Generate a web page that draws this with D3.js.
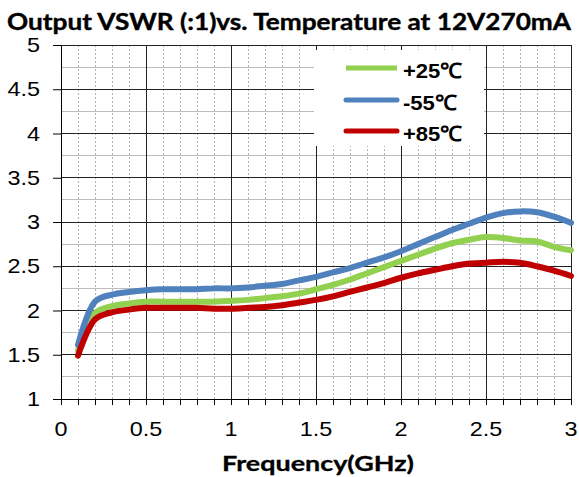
<!DOCTYPE html>
<html>
<head>
<meta charset="utf-8">
<script src="https://cdn.jsdelivr.net/npm/d3@7"></script>
<style>
  html, body { margin: 0; padding: 0; background: #fff; }
  svg { display: block; }
</style>
</head>
<body>
<svg id="chart" width="579" height="477"></svg>
<script>
// ---- data ----
const title = "Output VSWR (:1)vs. Temperature at 12V270mA";
const xAxisTitle = "Frequency(GHz)";
const freqs = [0.1,0.2,0.3,0.4,0.5,0.6,0.7,0.8,0.9,1.0,1.1,1.2,1.3,1.4,1.5,1.6,1.7,1.8,1.9,2.0,2.1,2.2,2.3,2.4,2.5,2.6,2.7,2.8,2.9,3.0];
const seriesNames = ["+25\u2103", "-55\u2103", "+85\u2103"];
const vswr25 = [1.55,1.97,2.05,2.08,2.10,2.10,2.10,2.10,2.10,2.11,2.12,2.14,2.16,2.19,2.24,2.29,2.35,2.42,2.49,2.56,2.63,2.70,2.76,2.80,2.83,2.82,2.79,2.78,2.72,2.68];
const vswrM55 = [1.61,2.10,2.18,2.21,2.23,2.24,2.24,2.24,2.25,2.25,2.26,2.28,2.30,2.34,2.38,2.43,2.48,2.54,2.60,2.67,2.75,2.83,2.91,2.98,3.05,3.10,3.12,3.11,3.06,2.99];
const vswr85 = [1.49,1.90,1.98,2.01,2.03,2.03,2.03,2.03,2.02,2.02,2.03,2.04,2.06,2.09,2.12,2.16,2.21,2.26,2.31,2.37,2.42,2.46,2.50,2.53,2.54,2.55,2.54,2.50,2.45,2.39];
const xTicks = [0, 0.5, 1, 1.5, 2, 2.5, 3];
const yTicks = [1, 1.5, 2, 2.5, 3, 3.5, 4, 4.5, 5];
const xTickLabels = ["0", "0.5", "1", "1.5", "2", "2.5", "3"];
const yTickLabels = ["1", "1.5", "2", "2.5", "3", "3.5", "4", "4.5", "5"];
const colors = ["#92D050", "#4F81BD", "#C00000"];

// ---- layout ----
const svg = d3.select("#chart");
const L = 61, R = 571, T = 45, B = 399;
const x = d3.scaleLinear().domain([0, 3]).range([L, R]);
const y = d3.scaleLinear().domain([1, 5]).range([B, T]);

// minor vertical dotted gridlines (every 0.1)
const minorX = d3.range(1, 30).filter(i => i % 5 !== 0).map(i => i / 10);
svg.append("g").selectAll("line").data(minorX).join("line")
  .attr("x1", d => x(d)).attr("x2", d => x(d))
  .attr("y1", T).attr("y2", B)
  .attr("stroke", "#b4b4b4").attr("stroke-width", 1)
  .attr("stroke-dasharray", "2,2")
  .attr("shape-rendering", "crispEdges");

// minor horizontal solid gridlines (every 0.25 between majors)
const minorY = d3.range(0, 8).map(i => 1.25 + i * 0.5);
svg.append("g").selectAll("line").data(minorY).join("line")
  .attr("x1", L).attr("x2", R)
  .attr("y1", d => y(d)).attr("y2", d => y(d))
  .attr("stroke", "#bdbdbd").attr("stroke-width", 1)
  .attr("shape-rendering", "crispEdges");

// major gridlines
svg.append("g").selectAll("line").data(xTicks.slice(1)).join("line")
  .attr("x1", d => x(d)).attr("x2", d => x(d))
  .attr("y1", T).attr("y2", B)
  .attr("stroke", "#222").attr("stroke-width", 1)
  .attr("shape-rendering", "crispEdges");
svg.append("g").selectAll("line").data(yTicks.slice(1)).join("line")
  .attr("x1", L).attr("x2", R)
  .attr("y1", d => y(d)).attr("y2", d => y(d))
  .attr("stroke", "#222").attr("stroke-width", 1)
  .attr("shape-rendering", "crispEdges");

// legend background box (hides gridlines)
svg.append("rect").attr("x", 314).attr("y", 50).attr("width", 170).attr("height", 96).attr("fill", "#fff");

// axes
const sx = 1.17;
const xAxis = d3.axisBottom(x).tickValues(d3.range(0, 31).map(i => i / 10)).tickSize(6).tickFormat("");
const gx = svg.append("g").attr("transform", `translate(0,${B})`).call(xAxis);
gx.select(".domain").attr("stroke", "#000").attr("d", `M${L - 8},0.5H${R}`);
gx.selectAll(".tick line").attr("stroke", "#000");

const yAxis = d3.axisLeft(y).tickValues(yTicks).tickSize(8).tickFormat("");
const gy = svg.append("g").attr("transform", `translate(${L},0)`).call(yAxis);
gy.select(".domain").attr("stroke", "#000").attr("d", `M0.5,${T}V${B}`);
gy.selectAll(".tick line").attr("stroke", "#000");

// tick labels
svg.append("g").selectAll("text").data(yTicks).join("text")
  .attr("transform", d => `translate(40,${y(d) + 7}) scale(${sx},1)`)
  .attr("text-anchor", "end")
  .attr("font-family", "Liberation Sans, Arial, sans-serif")
  .attr("font-size", 20)
  .attr("fill", "#000")
  .text((d, i) => yTickLabels[i]);

svg.append("g").selectAll("text").data(xTicks).join("text")
  .attr("transform", d => `translate(${x(d)},${436}) scale(${sx},1)`)
  .attr("text-anchor", "middle")
  .attr("font-family", "Liberation Sans, Arial, sans-serif")
  .attr("font-size", 20)
  .attr("fill", "#000")
  .text((d, i) => xTickLabels[i]);

// series lines
const series = [vswr25, vswrM55, vswr85];
const line = d3.line().x(d => x(d[0])).y(d => y(d[1])).curve(d3.curveCatmullRom.alpha(0.5));
svg.append("g").selectAll("path").data(series).join("path")
  .attr("d", vals => line(freqs.map((f, i) => [f, vals[i]])))
  .attr("fill", "none")
  .attr("stroke", (d, i) => colors[i])
  .attr("stroke-width", 6)
  .attr("stroke-linecap", "round")
  .attr("stroke-linejoin", "round");

// legend
const legendY = [68, 100, 131];
const lg = svg.append("g");
seriesNames.forEach((name, i) => {
  lg.append("line")
    .attr("x1", 346).attr("x2", 397)
    .attr("y1", legendY[i]).attr("y2", legendY[i])
    .attr("stroke", colors[i]).attr("stroke-width", 5)
    .attr("stroke-linecap", i === 0 ? "butt" : "round");
  lg.append("text")
    .attr("transform", `translate(403,${legendY[i] + 10}) scale(1.05,1)`)
    .attr("font-family", "Liberation Sans, Arial, sans-serif")
    .attr("font-weight", "bold")
    .attr("font-size", 21)
    .attr("fill", "#000")
    .text(name);
});

// title
svg.append("text")
  .attr("x", 7).attr("y", 30)
  .attr("textLength", 564).attr("lengthAdjust", "spacingAndGlyphs")
  .attr("font-family", "Lato, 'Open Sans', sans-serif")
  .attr("font-weight", "bold")
  .attr("font-size", 23)
  .attr("stroke", "#000").attr("stroke-width", 0.4)
  .attr("fill", "#000")
  .text(title);

// x axis title
svg.append("text")
  .attr("x", 222).attr("y", 471)
  .attr("textLength", 192).attr("lengthAdjust", "spacingAndGlyphs")
  .attr("font-family", "Lato, 'Open Sans', sans-serif")
  .attr("font-weight", "bold")
  .attr("font-size", 21)
  .attr("stroke", "#000").attr("stroke-width", 0.3)
  .attr("fill", "#000")
  .text(xAxisTitle);
</script>
</body>
</html>
